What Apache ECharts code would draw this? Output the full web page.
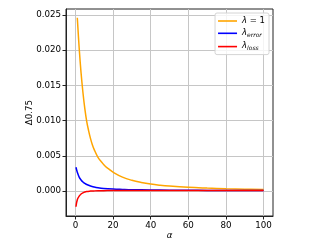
<!DOCTYPE html>
<html>
<head>
<meta charset="utf-8">
<script src="https://cdn.jsdelivr.net/npm/echarts@6/dist/echarts.min.js"></script>
<style>html,body{margin:0;padding:0;background:#fff}#c{width:332px;height:249px}</style>
</head>
<body>
<div id="c"></div>
<script>
// ---- data ----
const alphaOrange = [1, 2, 3, 4, 5, 6, 7, 8, 9, 10, 12, 14, 16, 18, 20, 25, 30, 35, 40, 45, 50, 60, 70, 80, 90, 100];
const lambdaOne   = [0.0246, 0.0203, 0.0168, 0.0140, 0.0117, 0.0099, 0.0086, 0.0075, 0.0066, 0.0059, 0.0048, 0.0041, 0.0035, 0.0031, 0.0027, 0.0020, 0.00155, 0.00124, 0.00101, 0.00085, 0.00073, 0.00056, 0.00045, 0.00036, 0.00029, 0.00023];
const alphaSmall  = [0.3, 1, 2, 3, 4, 5, 6, 8, 10, 12, 15, 20, 25, 30, 40, 50, 60, 70, 80, 90, 100];
const lambdaError = [0.0034, 0.0027, 0.0020, 0.0016, 0.0013, 0.0011, 0.00095, 0.00074, 0.0006, 0.0005, 0.0004, 0.00031, 0.00026, 0.00022, 0.00018, 0.00015, 0.00013, 0.00012, 0.00011, 0.0001, 0.0001];
const lambdaLoss  = [-0.0022, -0.0012, -0.0007, -0.0004, -0.00022, -0.0001, -0.00003, 0.00002, 0.00005, 0.00007, 0.00008, 0.0001, 0.0001, 0.00011, 0.00011, 0.00011, 0.00011, 0.00011, 0.00011, 0.00011, 0.00011];
const xTicks = [0, 20, 40, 60, 80, 100];
const yTicks = [0, 0.005, 0.010, 0.015, 0.020, 0.025];
const seriesNames = ['λ = 1', 'λerror', 'λloss'];

const zip = (xs, ys) => xs.map((x, i) => [x, ys[i]]);
const FONT = 'DejaVu Sans';

const chart = echarts.init(document.getElementById('c'), null, {renderer: 'canvas'});
const lineSeries = (name, xs, ys, color) => ({
  name, type: 'line', data: zip(xs, ys), symbol: 'none', showSymbol: false,
  smooth: 0.4,
  lineStyle: {color, width: 1.5}, itemStyle: {color}, animation: false
});
chart.setOption({
  animation: false,
  grid: {left: 66, top: 9, width: 207, height: 207, show: true, borderColor: '#222', borderWidth: 1, backgroundColor: 'transparent'},
  xAxis: {
    type: 'value', min: -5, max: 105,
    name: 'α', nameLocation: 'middle', nameGap: 15, nameMoveOverlap: false,
    nameTextStyle: {fontFamily: FONT, fontSize: 8.7, fontStyle: 'italic', color: '#000'},
    axisLine: {show: true, onZero: false, lineStyle: {color: '#222', width: 1}},
    axisTick: {show: true, length: 3.5, customValues: xTicks, lineStyle: {color: '#222'}},
    axisLabel: {customValues: xTicks, margin: 5, fontFamily: FONT, fontSize: 8.7, color: '#000'},
    splitLine: {show: true, lineStyle: {color: '#c6c6c6', width: 1}}
  },
  yAxis: {
    type: 'value', min: -0.00351, max: 0.02583,
    name: 'Δ0.75', nameLocation: 'middle', nameGap: 32, nameRotate: 90, nameMoveOverlap: false,
    nameTextStyle: {fontFamily: FONT, fontSize: 8.7, color: '#000'},
    axisLine: {show: true, onZero: false, lineStyle: {color: '#222', width: 1}},
    axisTick: {show: true, length: 3.5, customValues: yTicks, lineStyle: {color: '#222'}},
    axisLabel: {customValues: yTicks, margin: 5, fontFamily: FONT, fontSize: 8.7, color: '#000',
      formatter: v => v.toFixed(3)},
    splitLine: {show: true, lineStyle: {color: '#c6c6c6', width: 1}}
  },
  legend: {
    orient: 'vertical', right: 63, top: 13,
    backgroundColor: 'rgba(255,255,255,0.8)', borderColor: '#d4d4d4', borderWidth: 1, borderRadius: 2,
    padding: [3, 4, 3, 3], itemWidth: 19, itemHeight: 1.6, itemGap: 3.3,
    icon: 'rect',
    data: seriesNames,
    formatter: function (name) {
      if (name === seriesNames[0]) return '{i|λ}{m| = 1}';
      if (name === seriesNames[1]) return '{i|λ}{s|error}';
      return '{i|λ}{s|loss}';
    },
    textStyle: {
      fontFamily: FONT, fontSize: 8.5, color: '#000', padding: [0, 0, 0, 0],
      rich: {
        i: {fontFamily: FONT, fontSize: 8.5, fontStyle: 'italic', color: '#000', lineHeight: 10, verticalAlign: 'top'},
        m: {fontFamily: FONT, fontSize: 8.5, color: '#000', lineHeight: 10, verticalAlign: 'top'},
        s: {fontFamily: FONT, fontSize: 6, fontStyle: 'italic', color: '#000', lineHeight: 7, verticalAlign: 'bottom'}
      }
    }
  },
  series: [
    lineSeries(seriesNames[0], alphaOrange, lambdaOne, '#ffa500'),
    lineSeries(seriesNames[1], alphaSmall, lambdaError, '#0000ff'),
    lineSeries(seriesNames[2], alphaSmall, lambdaLoss, '#ff0000')
  ]
});
</script>
</body>
</html>
